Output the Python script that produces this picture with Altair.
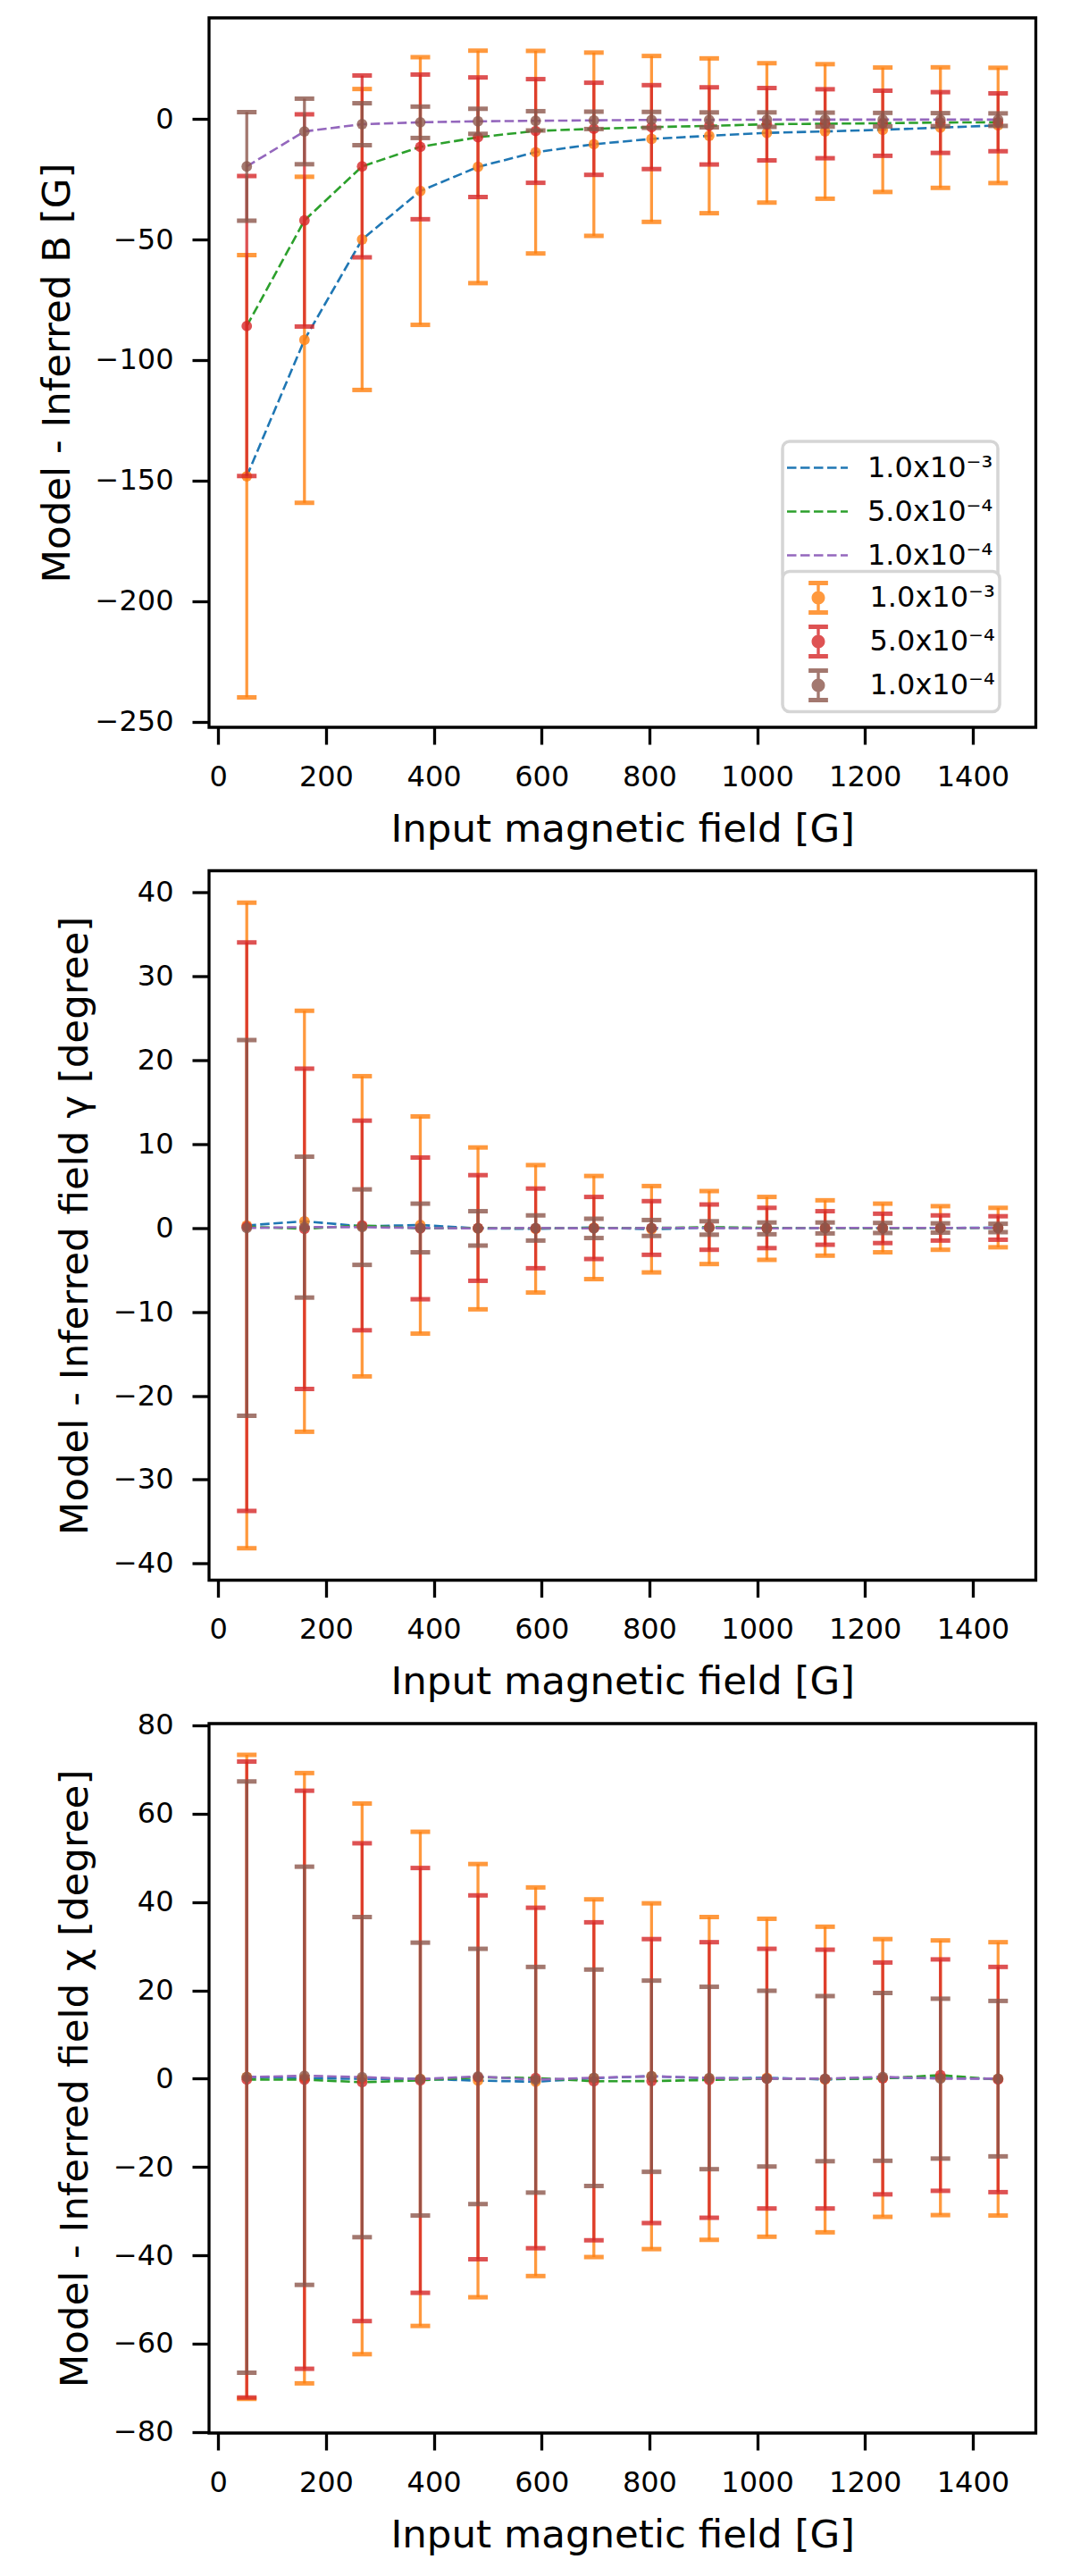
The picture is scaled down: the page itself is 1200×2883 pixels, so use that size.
import pandas as pd
import altair as alt

# Model - inferred residuals against the input field, three noise levels
FONT = "DejaVu Sans"

field_in = [53, 160, 267, 375, 482, 589, 697, 804, 911, 1018, 1126, 1233, 1340, 1447]
noise_labels = ["1.0x10⁻³", "5.0x10⁻⁴", "1.0x10⁻⁴"]
line_colors = ["#1f77b4", "#2ca02c", "#9467bd"]
bar_colors = ["#ff7f0e", "#d62728", "#8c564b"]
x_ticks = [0, 200, 400, 600, 800, 1000, 1200, 1400]

# field strength B [G]
b_mean_1e3 = [-148.2, -91.6, -50.0, -29.9, -19.9, -13.8, -10.5, -8.3, -7.0, -5.8, -5.2, -4.5, -3.6, -2.7]
b_err_1e3 = [91.7, 67.6, 62.4, 55.5, 48.2, 42.0, 38.0, 34.4, 32.1, 28.9, 27.9, 25.8, 25.0, 23.9]
b_mean_5e4 = [-85.9, -42.1, -19.7, -11.6, -7.6, -5.0, -4.1, -3.4, -2.9, -2.2, -2.0, -1.8, -1.5, -1.4]
b_err_5e4 = [62.2, 44.0, 37.7, 30.0, 24.8, 21.5, 19.1, 17.4, 16.0, 15.0, 14.3, 13.5, 12.6, 12.0]
b_mean_1e4 = [-19.7, -5.2, -2.2, -1.4, -1.0, -0.8, -0.6, -0.4, -0.4, -0.3, -0.3, -0.3, -0.3, -0.3]
b_err_1e4 = [22.5, 13.6, 8.7, 6.5, 5.2, 4.0, 3.6, 3.3, 3.1, 3.0, 2.9, 2.8, 2.7, 2.6]
b_ticks = [-250, -200, -150, -100, -50, 0]

# inclination gamma [degree]
g_mean_1e3 = [0.3, 0.8, 0.2, 0.35, -0.05, -0.1, 0.05, -0.15, 0.05, -0.05, 0.0, 0.0, 0.0, 0.05]
g_err_1e3 = [38.5, 25.1, 17.9, 12.95, 9.65, 7.6, 6.15, 5.15, 4.35, 3.75, 3.3, 2.9, 2.6, 2.35]
g_mean_5e4 = [0.15, -0.1, 0.3, -0.05, 0.0, -0.05, 0.0, 0.0, 0.1, 0.0, 0.0, -0.05, 0.0, 0.0]
g_err_5e4 = [33.9, 19.1, 12.5, 8.45, 6.3, 4.75, 3.7, 3.2, 2.7, 2.4, 2.0, 1.75, 1.5, 1.4]
g_mean_1e4 = [0.0, 0.1, 0.1, 0.0, -0.05, 0.0, -0.05, 0.0, 0.0, -0.05, 0.0, 0.0, 0.0, 0.0]
g_err_1e4 = [22.4, 8.4, 4.5, 2.9, 2.05, 1.5, 1.15, 0.95, 0.8, 0.7, 0.65, 0.6, 0.55, 0.5]
g_ticks = [-40, -30, -20, -10, 0, 10, 20, 30, 40]

# azimuth chi [degree]
c_mean_1e3 = [0.4, 0.1, -0.05, -0.05, -0.45, -0.7, 0.1, 0.55, 0.05, 0.2, -0.2, 0.15, 0.2, -0.05]
c_err_1e3 = [72.9, 69.1, 62.35, 55.95, 49.05, 44.0, 40.5, 39.15, 36.55, 36.0, 34.6, 31.45, 31.1, 30.95]
c_mean_5e4 = [-0.2, -0.25, -0.8, -0.4, 0.3, 0.15, -0.6, -0.55, -0.3, 0.0, -0.1, 0.05, 0.8, -0.2]
c_err_5e4 = [72.0, 65.45, 54.1, 48.1, 41.2, 38.55, 36.0, 32.15, 31.2, 29.4, 29.3, 26.25, 26.2, 25.5]
c_mean_1e4 = [0.35, 0.65, 0.35, -0.1, 0.5, -0.25, 0.2, 0.55, 0.15, 0.0, 0.0, 0.4, 0.0, 0.0]
c_err_1e4 = [66.95, 47.35, 36.25, 30.9, 28.9, 25.55, 24.5, 21.65, 20.65, 19.9, 18.7, 19.0, 18.1, 17.6]
c_ticks = [-80, -60, -40, -20, 0, 20, 40, 60, 80]

line_keys = ["line|" + s for s in noise_labels]
bar_keys = ["bar|" + s for s in noise_labels]

# errorbar glyph for the legend (caps, bar and dot, all filled)
ERRBAR_SYMBOL = (
    "M-0.32,-0.56H0.32V-0.41H-0.32Z"
    "M-0.32,0.41H0.32V0.56H-0.32Z"
    "M-0.05,-0.41H0.05V0.41H-0.05Z"
    "M0.22,0A0.22,0.22,0,1,1,-0.22,0A0.22,0.22,0,1,1,0.22,0Z"
)

legend_common = dict(
    title=None,
    orient="none",
    legendX=642,
    padding=5,
    rowPadding=0,
    fillColor="white",
    strokeColor="#d5d5d5",
    cornerRadius=8,
    clipHeight=49,
    symbolSize=4624,
    labelFont=FONT,
    labelFontSize=32,
    labelColor="black",
    labelExpr="split(datum.label, '|')[1]",
)


def build_frame(means, errs):
    rows = []
    for label, mean, err in zip(noise_labels, means, errs):
        for b, m, e in zip(field_in, mean, err):
            rows.append({
                "B": b, "mean": m, "lo": m - e, "hi": m + e,
                "noise": label, "line_key": "line|" + label, "bar_key": "bar|" + label,
            })
    return pd.DataFrame(rows)


def make_panel(df, y_title, y_domain, y_ticks, show_legend):
    x = alt.X("B:Q", scale=alt.Scale(domain=[-17, 1517], nice=False, zero=False),
              axis=alt.Axis(values=x_ticks, format="d", title="Input magnetic field [G]"))

    def y(field):
        return alt.Y(f"{field}:Q", scale=alt.Scale(domain=y_domain, nice=False, zero=False),
                     axis=alt.Axis(values=y_ticks, format="d", title=y_title))

    line_legend = None
    bar_legend = None
    if show_legend:
        line_legend = alt.Legend(**legend_common, legendY=474,
                                 symbolType="stroke", symbolStrokeWidth=2.6,
                                 symbolDash=[10.5, 4.5], symbolOffset=-1.5, labelOffset=20.5)
        bar_legend = alt.Legend(**legend_common, legendY=619.5,
                                symbolType=ERRBAR_SYMBOL, symbolStrokeWidth=0,
                                symbolOpacity=0.8, symbolOffset=1, labelOffset=23.5)

    lines = alt.Chart(df).mark_line(strokeDash=[10.5, 4.5], strokeWidth=2.6).encode(
        x=x,
        y=y("mean"),
        stroke=alt.Stroke("line_key:N", scale=alt.Scale(domain=line_keys, range=line_colors),
                          legend=line_legend),
    )

    layers = [lines]
    for label, color in zip(noise_labels, bar_colors):
        sub = df[df["noise"] == label]
        base = alt.Chart(sub).encode(x=x)
        bars = base.mark_rule(color=color, strokeWidth=3.3, opacity=0.8).encode(y=y("lo"), y2="hi:Q")
        cap_lo = base.mark_tick(orient="horizontal", size=22, thickness=5, color=color,
                                opacity=0.8).encode(y=y("lo"))
        cap_hi = base.mark_tick(orient="horizontal", size=22, thickness=5, color=color,
                                opacity=0.8).encode(y=y("hi"))
        dots = base.mark_circle(size=140, opacity=0.8).encode(
            y=y("mean"),
            fill=alt.Fill("bar_key:N", scale=alt.Scale(domain=bar_keys, range=bar_colors),
                          legend=bar_legend),
        )
        layers += [bars, cap_lo, cap_hi, dots]

    return alt.layer(*layers).properties(width=925.5, height=794)


df_b = build_frame([b_mean_1e3, b_mean_5e4, b_mean_1e4], [b_err_1e3, b_err_5e4, b_err_1e4])
df_g = build_frame([g_mean_1e3, g_mean_5e4, g_mean_1e4], [g_err_1e3, g_err_5e4, g_err_1e4])
df_c = build_frame([c_mean_1e3, c_mean_5e4, c_mean_1e4], [c_err_1e3, c_err_5e4, c_err_1e4])

p_b = make_panel(df_b, "Model - Inferred B [G]", [-252.3, 41.9], b_ticks, True)
p_g = make_panel(df_g, "Model - Inferred field γ [degree]", [-42.0, 42.6], g_ticks, False)
p_c = make_panel(df_c, "Model - Inferred field χ [degree]", [-80.25, 80.4], c_ticks, False)

chart = (
    alt.vconcat(p_b, p_g, p_c, spacing=160.5, bounds="flush")
    .resolve_scale(fill="independent", stroke="independent")
    .properties(padding={"left": 32, "top": 10, "right": 5, "bottom": 5}, background="white")
    .configure_axis(
        labelFont=FONT, labelFontSize=32, labelColor="black",
        titleFont=FONT, titleFontSize=43.5, titleFontWeight="normal", titleColor="black",
        tickColor="black", tickWidth=3.3, tickSize=19, labelPadding=21,
        grid=False, domain=False, labelFlush=False, labelOverlap=False,
    )
    .configure_axisX(titlePadding=22)
    .configure_axisY(titlePadding=20)
    .configure_view(stroke="black", strokeWidth=3.3)
    .configure_legend(strokeWidth=3.5)
)

chart.save("out.html", embed_options={"renderer": "svg", "actions": False})
